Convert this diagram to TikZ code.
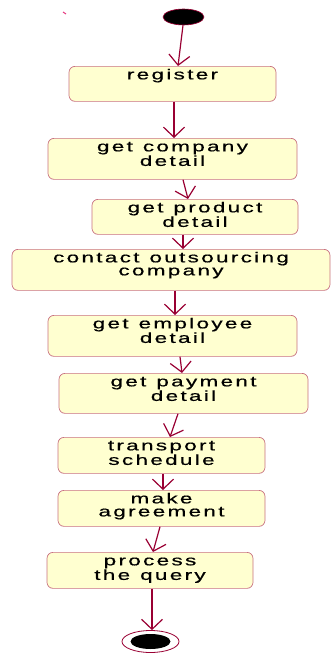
\documentclass[tikz,border=0pt]{standalone}
\usepackage{fontspec}
\usetikzlibrary{arrows.meta,shapes.geometric}
\newfontfamily\lab{Liberation Sans}[FakeStretch=1.55, LetterSpace=16, FakeBold=0.6]
\newcommand\ws{\hspace{10pt}}
\definecolor{arr}{HTML}{990033}
\definecolor{bord}{HTML}{C87080}
\definecolor{boxfill}{HTML}{FFFFD0}
\begin{document}
\begin{tikzpicture}[x=1pt,y=-1pt,
  act/.style 2 args={draw=bord, line width=0.7pt, fill=boxfill, rounded corners=6pt,
    anchor=north, inner xsep=0pt, inner ysep=0pt, minimum width=#1pt,
    text width=#1pt, align=center, text height=13pt, text depth=#2pt-13pt,
    font=\lab\fontsize{14.5pt}{13pt}\selectfont},
  flow/.style={draw=arr, line width=1.2pt, -{Straight Barb[length=10pt,width=21pt,line width=1.2pt]}}]
\useasboundingbox (0,0) rectangle (332,653);
\draw[line width=1pt, draw={rgb,255:red,230;green,60;blue,130}] (63,12) -- (66,14);
\node[ellipse, fill=black, draw=arr, line width=0.6pt, minimum width=41pt, minimum height=16pt, inner sep=0pt] (start) at (183.5,17) {};
\node[act={207}{35}] (reg) at (172.5,66) {register};
\node[act={249}{41}] (comp) at (172.5,138) {get\ws company\\detail};
\node[act={206}{35}] (prod) at (195,199) {get\ws product\\detail};
\node[act={318}{41}] (cont) at (171,249) {contact\ws outsourcing\\company};
\node[act={249}{41}] (emp) at (172.5,315) {get\ws employee\\detail};
\node[act={249}{40}] (pay) at (183.5,373) {get\ws payment\\detail};
\node[act={207}{36}] (trans) at (161.5,437) {transport\\schedule};
\node[act={207}{36}] (agr) at (161.5,490) {make\\agreement};
\node[act={206}{36}] (proc) at (150,552) {process\\the\ws query};
\node[ellipse, draw=arr, line width=0.8pt, fill=white, minimum width=57pt, minimum height=22pt, inner sep=0pt] (end) at (150.5,641.5) {};
\node[ellipse, fill=black, minimum width=40pt, minimum height=15pt, inner sep=0pt] (endin) at (end.center) {};
\draw[flow] ([xshift=-0.5pt]start.south) -- ([xshift=5.5pt]reg.north);
\draw[flow] ([xshift=1.5pt]reg.south) -- ([xshift=1.5pt]comp.north);
\draw[flow] ([xshift=10.5pt]comp.south) -- ([xshift=-7pt]prod.north);
\draw[flow] ([xshift=-12pt]prod.south) -- ([xshift=12pt]cont.north);
\draw[flow] ([xshift=4pt]cont.south) -- ([xshift=2.5pt]emp.north);
\draw[flow] ([xshift=7.5pt]emp.south) -- ([xshift=-1.5pt]pay.north);
\draw[flow] ([xshift=-5.5pt]pay.south) -- ([xshift=8.5pt]trans.north);
\draw[flow] ([xshift=1.5pt]trans.south) -- ([xshift=1.5pt]agr.north);
\draw[flow] ([xshift=-1.5pt]agr.south) -- ([xshift=3pt]proc.north);
\draw[flow] ([xshift=2pt]proc.south) -- ([xshift=1.5pt]end.north);
\end{tikzpicture}
\end{document}
